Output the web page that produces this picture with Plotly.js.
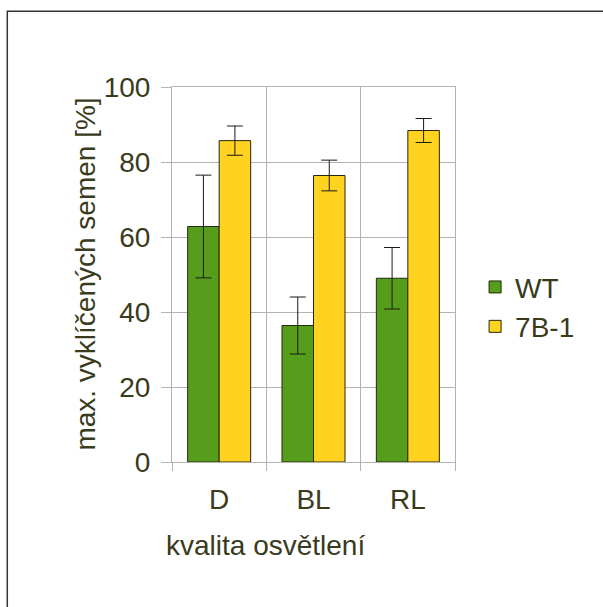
<!DOCTYPE html>
<html>
<head>
<meta charset="utf-8">
<script src="https://cdn.plot.ly/plotly-3.0.1.min.js"></script>
<style>
html,body{margin:0;padding:0;background:#fff;}
#chart{width:603px;height:607px;}
</style>
</head>
<body>
<div id="chart"></div>
<script>
const categories = ["D", "BL", "RL"];
const seriesNames = ["WT", "7B-1"];
const wtValues = [62.8, 36.4, 49.0];
const wtErrors = [13.7, 7.6, 8.2];
const b71Values = [85.7, 76.4, 88.4];
const b71Errors = [3.9, 4.1, 3.2];
const yTicks = [0, 20, 40, 60, 80, 100];

const textColor = "#3a3a1c";
const gridColor = "#b3b3b3";
const fontFamily = "'Liberation Sans', Arial, sans-serif";
const fs = 28;

const errStyle = (arr) => ({type: "data", array: arr, visible: true, color: "#1a1a1a", thickness: 1, width: 8});

const traces = [
  {type: "bar", name: seriesNames[0], x: categories, y: wtValues,
   error_y: errStyle(wtErrors), legendgroup: "a",
   marker: {color: "#579d1c", line: {color: "#1e2a0a", width: 1}}},
  {type: "bar", name: seriesNames[1], x: categories, y: b71Values,
   error_y: errStyle(b71Errors), legendgroup: "b",
   marker: {color: "#ffd320", line: {color: "#2a2410", width: 1}}}
];

const layout = {
  width: 603, height: 607,
  margin: {l: 172, r: 148, t: 87, b: 145, pad: 0},
  paper_bgcolor: "#ffffff", plot_bgcolor: "#ffffff",
  font: {family: fontFamily, size: fs, color: textColor},
  barmode: "group", bargap: 0.332, bargroupgap: 0,
  showlegend: true,
  legend: {x: 1.071, xanchor: "left", y: 0.414, yanchor: "middle",
           font: {family: fontFamily, size: fs, color: textColor}, tracegroupgap: 0,
           bgcolor: "rgba(0,0,0,0)"},
  xaxis: {type: "category", tickson: "boundaries", ticks: "outside", ticklen: 8,
          tickcolor: gridColor, showgrid: true, gridcolor: gridColor,
          showline: true, linecolor: gridColor, mirror: true,
          ticklabelstandoff: 12, tickfont: {family: fontFamily, size: fs, color: textColor}},
  yaxis: {range: [0, 100], tickvals: yTicks, ticks: "outside", ticklen: 10,
          tickcolor: gridColor, showgrid: true, gridcolor: gridColor,
          showline: true, linecolor: gridColor, mirror: true, zeroline: false,
          ticklabelstandoff: 5, tickfont: {family: fontFamily, size: fs, color: textColor}},
  annotations: [
    {text: "max. vyklíčených semen [%]", textangle: -90, xref: "paper", yref: "paper",
     x: -0.307, y: 0.5, xanchor: "center", yanchor: "middle", showarrow: false,
     font: {family: fontFamily, size: fs, color: textColor}},
    {text: "kvalita osvětlení", xref: "paper", yref: "paper",
     x: 0.329, y: -0.223, xanchor: "center", yanchor: "middle", showarrow: false,
     font: {family: fontFamily, size: fs, color: textColor}}
  ],
  shapes: [
    {type: "rect", xref: "paper", yref: "paper", x0: -0.582, x1: 2.0, y0: 1.202, y1: -0.6,
     line: {color: "#333333", width: 1.5}, fillcolor: "rgba(0,0,0,0)", layer: "below"}
  ]
};

Plotly.newPlot("chart", traces, layout, {displayModeBar: false, staticPlot: true});
</script>
</body>
</html>
